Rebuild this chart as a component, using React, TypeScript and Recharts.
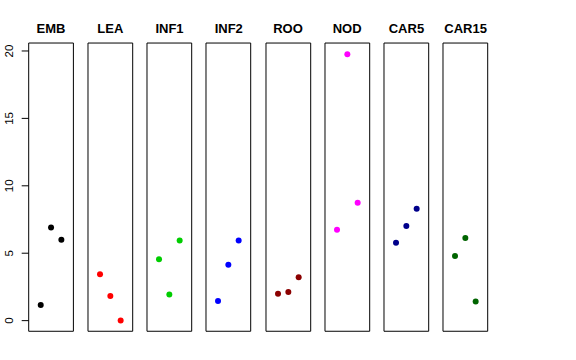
import { ScatterChart, Scatter, XAxis, YAxis, ReferenceArea } from "recharts";

const TISSUES = ["EMB", "LEA", "INF1", "INF2", "ROO", "NOD", "CAR5", "CAR15"];
const COLORS = ["#000000", "#ff0000", "#00cd00", "#0000ff", "#8b0000", "#ff00ff", "#00008b", "#006400"];
const REPLICATES = [1, 2, 3];

const EMB = [1.16, 6.91, 6.0];
const LEA = [3.43, 1.82, 0.0];
const INF1 = [4.56, 1.93, 5.95];
const INF2 = [1.45, 4.15, 5.95];
const ROO = [2.0, 2.12, 3.21];
const NOD = [6.74, 19.75, 8.74];
const CAR5 = [5.78, 7.01, 8.3];
const CAR15 = [4.79, 6.12, 1.41];
const VALUES = [EMB, LEA, INF1, INF2, ROO, NOD, CAR5, CAR15];

const Y_TICKS = [0, 5, 10, 15, 20];
const X_DOMAIN: [number, number] = [-0.165, 4.165];
const Y_DOMAIN: [number, number] = [-0.79, 20.59];

const BOX_LEFT = 28.7;
const BOX_STEP = 59.23;
const BOX_W = 44.7;
const BOX_TOP = 42.7;
const BOX_H = 288.3;
const PAD = 3;
const FONT = "'Liberation Sans', Arial, Helvetica, sans-serif";

function RotTick({ y, payload }: any) {
  return (
    <text
      x={9}
      y={y}
      transform={`rotate(-90, 9, ${y})`}
      textAnchor="middle"
      dominantBaseline="central"
      fontSize={11.5}
      fontFamily={FONT}
      fill="#000"
    >
      {payload.value}
    </text>
  );
}

function Panel({ idx }: { idx: number }) {
  const first = idx === 0;
  const axisW = first ? BOX_LEFT : 0;
  const padL = first ? 0 : PAD;
  const data = REPLICATES.map((r, i) => ({ x: r, y: VALUES[idx][i] }));
  const color = COLORS[idx];
  return (
    <div
      style={{
        position: "absolute",
        left: BOX_LEFT + idx * BOX_STEP - axisW - padL,
        top: BOX_TOP - PAD,
      }}
    >
      <ScatterChart
        width={BOX_W + axisW + padL + PAD}
        height={BOX_H + 2 * PAD}
        margin={{ top: PAD, right: PAD, bottom: PAD, left: padL }}
      >
        <XAxis type="number" dataKey="x" domain={X_DOMAIN} hide allowDataOverflow />
        <YAxis
          type="number"
          dataKey="y"
          domain={Y_DOMAIN}
          ticks={Y_TICKS}
          allowDataOverflow
          hide={!first}
          width={axisW}
          axisLine={false}
          tickSize={7}
          tickLine={{ stroke: "#000" }}
          tick={<RotTick />}
        />
        <ReferenceArea
          x1={X_DOMAIN[0]}
          x2={X_DOMAIN[1]}
          y1={Y_DOMAIN[0]}
          y2={Y_DOMAIN[1]}
          fill="none"
          fillOpacity={0}
          stroke="#000"
          strokeWidth={1}
          ifOverflow="visible"
        />
        <Scatter
          data={data}
          isAnimationActive={false}
          shape={(p: any) => <circle cx={p.cx} cy={p.cy} r={3} fill={color} />}
        />
      </ScatterChart>
      <div
        style={{
          position: "absolute",
          left: axisW + padL,
          width: BOX_W,
          top: PAD - 22,
          textAlign: "center",
          fontFamily: FONT,
          fontWeight: "bold",
          fontSize: 13,
          lineHeight: "15px",
          color: "#000",
          whiteSpace: "nowrap",
        }}
      >
        {TISSUES[idx]}
      </div>
    </div>
  );
}

export default function App() {
  return (
    <div
      style={{
        position: "absolute",
        left: 0,
        top: 0,
        width: 576,
        height: 360,
        background: "#fff",
      }}
    >
      {TISSUES.map((_, i) => (
        <Panel key={i} idx={i} />
      ))}
    </div>
  );
}
